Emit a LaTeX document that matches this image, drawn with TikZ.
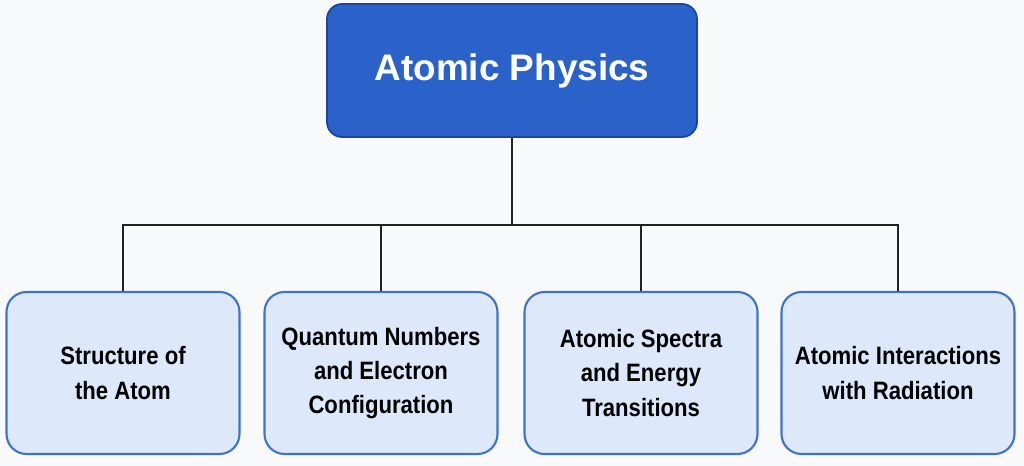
\documentclass[tikz,border=0pt]{standalone}
\usepackage{fontspec}
\setmainfont{Liberation Sans}
\newfontfamily\narrowfont[FakeStretch = 0.88]{Liberation Sans}
\usetikzlibrary{calc}
\definecolor{rootblue}{RGB}{42,98,201}
\definecolor{rootedge}{RGB}{26,70,158}
\definecolor{leafblue}{RGB}{221,233,250}
\definecolor{leafedge}{RGB}{62,116,200}
\definecolor{wiregray}{RGB}{34,34,34}
\definecolor{paper}{RGB}{248,249,250}
\tikzset {
    root box/.style = {
        draw = rootedge, line width = 1pt, fill = rootblue,
        rounded corners = 0.3cm,
        minimum width = 7.4cm, minimum height = 2.66cm,
        text = white, font = \fontsize{21}{25}\selectfont\bfseries
    },
    leaf box/.style = {
        draw = leafedge, line width = 1.2pt, fill = leafblue,
        rounded corners = 0.4cm,
        minimum width = 4.66cm, minimum height = 3.24cm,
        align = center,
        font = \narrowfont\fontsize{14.3}{19.4}\selectfont\bfseries
    },
    wire/.style = {draw = wiregray, line width = 1.7pt},
}

\begin{document}
\begin{tikzpicture}
    \fill [paper] (0, 0) rectangle (20.48, 9.32);
    \node (root) [root box] at (10.24, 7.91) {Atomic Physics};
    \coordinate (bus) at (10.24, 4.82);
    %
    \node (struct) [leaf box] at (2.46, 1.86) {Structure of\\the Atom};
    \node (quant) [leaf box] at (7.62, 1.86) {Quantum Numbers\\and Electron\\Configuration};
    \node (spec) [leaf box] at (12.82, 1.86) {Atomic Spectra\\and Energy\\Transitions};
    \node (rad) [leaf box] at (17.96, 1.86) {Atomic Interactions\\with Radiation};
    %
    \draw [wire] (root) -- (bus);
    \draw [wire] (struct) |- (bus) -| (rad);
    \draw [wire] (bus -| quant) -- (quant);
    \draw [wire] (bus -| spec) -- (spec);
\end{tikzpicture}
\end{document}
